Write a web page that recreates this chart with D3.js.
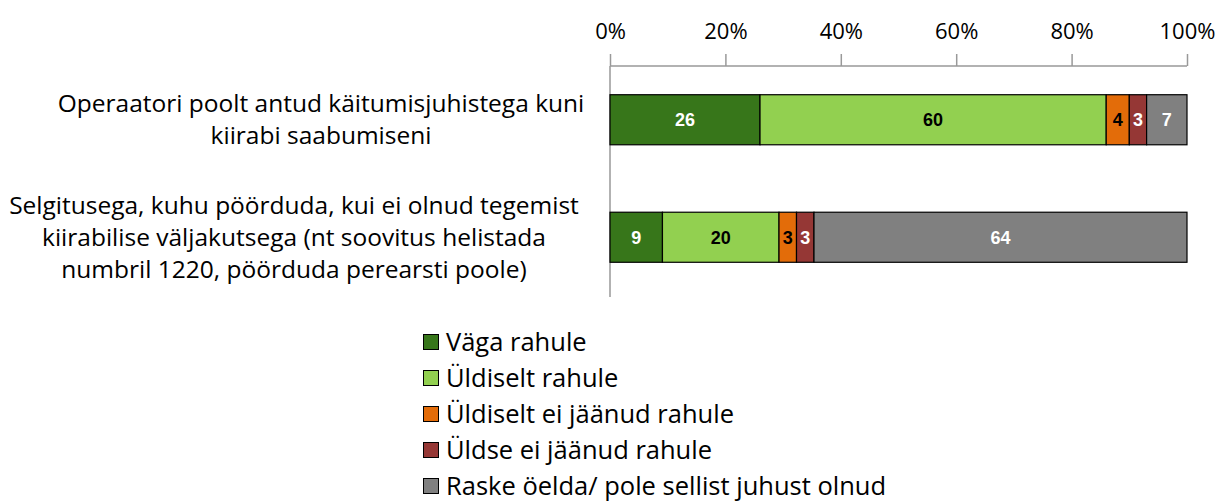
<!DOCTYPE html>
<html>
<head>
<meta charset="utf-8">
<script src="https://cdn.jsdelivr.net/npm/d3@7"></script>
<style>
  html, body { margin: 0; padding: 0; background: #fff; }
  svg { display: block; font-family: "Open Sans", Lato, sans-serif; }
</style>
</head>
<body>
<svg id="chart" width="1227" height="502"></svg>
<script>
// Survey answers, percentages per response category
const categories = [
  ["Operaatori poolt antud käitumisjuhistega kuni", "kiirabi saabumiseni"],
  ["Selgitusega, kuhu pöörduda, kui ei olnud tegemist", "kiirabilise väljakutsega (nt soovitus helistada", "numbril 1220, pöörduda perearsti poole)"]
];
const seriesNames = [
  "Väga rahule",
  "Üldiselt rahule",
  "Üldiselt ei jäänud rahule",
  "Üldse ei jäänud rahule",
  "Raske öelda/ pole sellist juhust olnud"
];
const vagaRahule = [26, 9];
const uldiseltRahule = [60, 20];
const uldiseltEiRahule = [4, 3];
const uldseEiRahule = [3, 3];
const raskeOelda = [7, 64];
const tickLabels = ["0%", "20%", "40%", "60%", "80%", "100%"];

const colors = ["#37761a", "#92d050", "#e36c09", "#953735", "#808080"];
const labelColors = ["#fff", "#000", "#000", "#fff", "#fff"];
// horizontal centre of each wrapped category label
const labelCenterX = [321, 294];

const seriesValues = [vagaRahule, uldiseltRahule, uldiseltEiRahule, uldseEiRahule, raskeOelda];
const rows = categories.map((c, i) => {
  const r = { idx: i };
  seriesNames.forEach((s, j) => r[s] = seriesValues[j][i]);
  return r;
});

// 100% stacked layout
const stacked = d3.stack().keys(seriesNames).offset(d3.stackOffsetExpand)(rows);

const svg = d3.select("#chart");
const x = d3.scaleLinear().domain([0, 1]).range([610, 1187]);
const y = d3.scaleBand().domain(d3.range(categories.length)).range([61, 296]).paddingInner(0.574).paddingOuter(0.287);

// Top axis
const axis = d3.axisTop(x)
  .tickValues(d3.range(0, 1.0001, 0.2))
  .tickFormat((d, i) => tickLabels[i])
  .tickSize(12)
  .tickPadding(15);
const gAxis = svg.append("g").attr("transform", "translate(0,66)").call(axis);
gAxis.select(".domain").attr("stroke", "#999").attr("stroke-width", 1.5).attr("d", `M${x(0)},0H${x(1)}`);
gAxis.selectAll(".tick line").attr("stroke", "#999").attr("stroke-width", 1.5);
gAxis.selectAll(".tick text").attr("font-size", 22).attr("fill", "#000").attr("font-family", "'Open Sans', sans-serif");

// Vertical category axis line
svg.append("line")
  .attr("x1", x(0)).attr("x2", x(0))
  .attr("y1", 66).attr("y2", 297)
  .attr("stroke", "#999").attr("stroke-width", 1.5);

// Bars
const layers = svg.append("g").selectAll("g").data(stacked).join("g")
  .attr("fill", (d, i) => colors[i]);
layers.selectAll("rect").data(d => d).join("rect")
  .attr("x", d => x(d[0]))
  .attr("width", d => x(d[1]) - x(d[0]))
  .attr("y", d => y(d.data.idx))
  .attr("height", y.bandwidth())
  .attr("stroke", "#000").attr("stroke-width", 1.2);

// Value labels inside segments
svg.append("g").selectAll("g").data(stacked).join("g")
  .each(function (layer, li) {
    d3.select(this).selectAll("text").data(layer).join("text")
      .attr("x", d => (x(d[0]) + x(d[1])) / 2)
      .attr("y", d => y(d.data.idx) + y.bandwidth() / 2)
      .attr("dy", "0.36em")
      .attr("text-anchor", "middle")
      .attr("font-family", "Arial, 'Liberation Sans', sans-serif")
      .attr("font-weight", "bold")
      .attr("font-size", 18)
      .attr("fill", labelColors[li])
      .text(d => d.data[layer.key]);
  });

// Category labels
const lineH = 32;
svg.append("g").selectAll("text").data(categories).join("text")
  .attr("text-anchor", "middle")
  .attr("font-size", 24.5)
  .attr("fill", "#000")
  .each(function (lines, i) {
    const cy = y(i) + y.bandwidth() / 2;
    const start = cy - (lines.length - 1) * lineH / 2;
    d3.select(this).selectAll("tspan").data(lines).join("tspan")
      .attr("x", labelCenterX[i])
      .attr("y", (d, k) => start + k * lineH)
      .attr("dy", "0.35em")
      .text(d => d);
  });

// Legend
const legend = svg.append("g").selectAll("g").data(seriesNames).join("g")
  .attr("transform", (d, i) => `translate(423,${342 + i * 36})`);
legend.append("rect")
  .attr("x", 0.5).attr("y", -7.5).attr("width", 15).attr("height", 15)
  .attr("fill", (d, i) => colors[i])
  .attr("stroke", "#000").attr("stroke-width", 1);
legend.append("text")
  .attr("x", 23).attr("y", 0).attr("dy", "0.35em")
  .attr("font-size", 25.5).attr("fill", "#000")
  .text(d => d);
</script>
</body>
</html>
